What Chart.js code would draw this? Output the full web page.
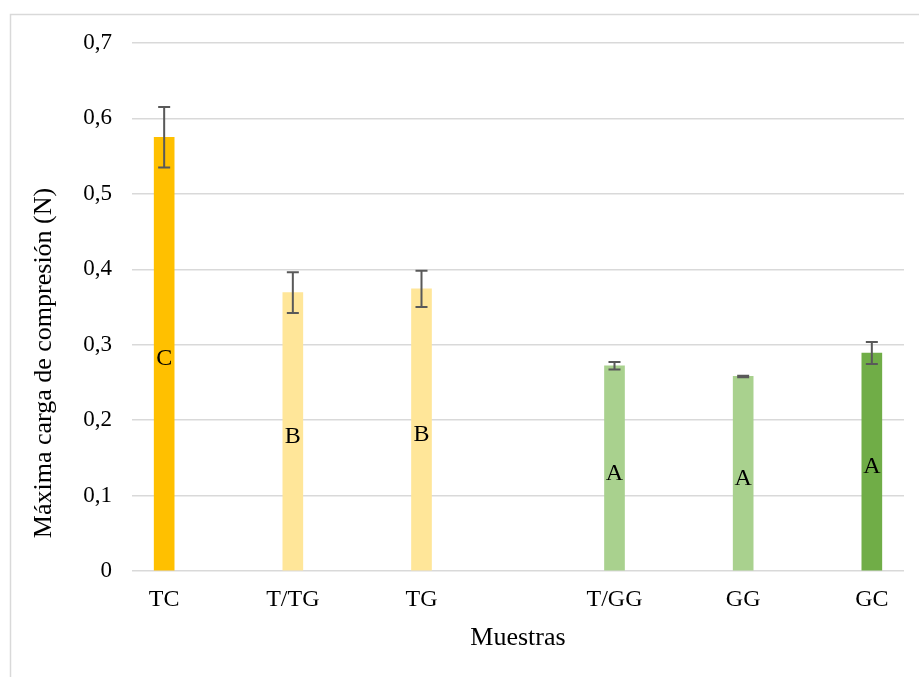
<!DOCTYPE html>
<html>
<head>
<meta charset="utf-8">
<script src="https://cdn.jsdelivr.net/npm/chart.js@4"></script>
<style>
    html, body { margin: 0; padding: 0; background: #ffffff; }
    #wrap { width: 919px; height: 677px; position: relative; }
</style>
</head>
<body>
<div id="wrap"><canvas id="chart"></canvas></div>
<script>
// empty slots keep the Excel spacing (gap between the T and G groups)
const categories = ["TC", "", "T/TG", "", "TG", "", "", "T/GG", "", "GG", "", "GC"];
const cargaMaxima = [0.575, null, 0.369, null, 0.374, null, null, 0.272, null, 0.258, null, 0.289];
const errorEstandar = [0.040, null, 0.027, null, 0.024, null, null, 0.005, null, 0.001, null, 0.0145];
const letras = ["C", null, "B", null, "B", null, null, "A", null, "A", null, "A"];
const colores = ["#ffc000", null, "#ffe699", null, "#ffe699", null, null, "#a9d18e", null, "#a9d18e", null, "#70ad47"];
const yTicks = [0, 0.1, 0.2, 0.3, 0.4, 0.5, 0.6, 0.7];
const tituloY = "Máxima carga de compresión (N)";

const serif = "'Liberation Serif', 'Times New Roman', serif";

const frame = {
    id: "frame",
    beforeDraw(chart) {
        const ctx = chart.ctx;
        ctx.save();
        ctx.strokeStyle = "#d9d9d9";
        ctx.lineWidth = 1.5;
        ctx.beginPath();
        ctx.moveTo(10.5, chart.height);
        ctx.lineTo(10.5, 14.5);
        ctx.lineTo(chart.width, 14.5);
        ctx.stroke();

        // y title sits a bit below the plot centre, as in the Excel original
        ctx.fillStyle = "#000000";
        ctx.font = "26px " + serif;
        ctx.textAlign = "center";
        ctx.textBaseline = "middle";
        ctx.translate(44, 363);
        ctx.rotate(-Math.PI / 2);
        ctx.fillText(tituloY, 0, 0);
        ctx.restore();
    }
};

const errorBars = {
    id: "errorBars",
    afterDatasetsDraw(chart) {
        const ctx = chart.ctx;
        const y = chart.scales.y;
        const meta = chart.getDatasetMeta(0);
        ctx.save();
        ctx.strokeStyle = "#595959";
        ctx.lineWidth = 2;
        meta.data.forEach((bar, i) => {
            const v = cargaMaxima[i];
            const e = errorEstandar[i];
            if (v === null) return;
            const top = y.getPixelForValue(v + e);
            const bottom = y.getPixelForValue(v - e);
            ctx.beginPath();
            ctx.moveTo(bar.x, top);
            ctx.lineTo(bar.x, bottom);
            ctx.moveTo(bar.x - 6, top);
            ctx.lineTo(bar.x + 6, top);
            ctx.moveTo(bar.x - 6, bottom);
            ctx.lineTo(bar.x + 6, bottom);
            ctx.stroke();
        });
        // letras de significancia, centradas en la barra
        ctx.fillStyle = "#000000";
        ctx.font = "24px " + serif;
        ctx.textAlign = "center";
        ctx.textBaseline = "middle";
        meta.data.forEach((bar, i) => {
            if (!letras[i]) return;
            ctx.fillText(letras[i], bar.x, y.getPixelForValue(cargaMaxima[i] / 2) + 5);
        });
        ctx.restore();
    }
};

new Chart(document.getElementById("chart"), {
    type: "bar",
    data: {
        labels: categories,
        datasets: [
            {
                data: cargaMaxima,
                backgroundColor: colores,
                barThickness: 20,
                borderSkipped: false
            }
        ]
    },
    options: {
        responsive: true,
        maintainAspectRatio: false,
        animation: false,
        layout: {
            padding: { top: 43, right: 15, left: 0, bottom: 0 }
        },
        plugins: {
            legend: { display: false },
            tooltip: { enabled: false }
        },
        scales: {
            x: {
                grid: { display: false, drawTicks: false },
                border: { display: false },
                ticks: {
                    autoSkip: false,
                    maxRotation: 0,
                    padding: 14,
                    color: "#000000",
                    font: { family: serif, size: 24 }
                },
                title: {
                    display: true,
                    text: "Muestras",
                    color: "#000000",
                    font: { family: serif, size: 26 },
                    padding: { top: 0, bottom: 23 }
                },
                afterFit(scale) {
                    scale.height = 106;
                }
            },
            y: {
                min: 0,
                max: 0.7,
                grid: {
                    color: "#d9d9d9",
                    lineWidth: 1.5,
                    drawTicks: false
                },
                border: { display: false },
                afterBuildTicks(scale) {
                    scale.ticks = yTicks.map(v => ({ value: v }));
                },
                ticks: {
                    padding: 20,
                    color: "#000000",
                    font: { family: serif, size: 23 },
                    callback: v => String(Math.round(v * 10) / 10).replace(".", ",")
                },
                afterFit(scale) {
                    scale.width = 132;
                }
            }
        }
    },
    plugins: [frame, errorBars]
});
</script>
</body>
</html>
